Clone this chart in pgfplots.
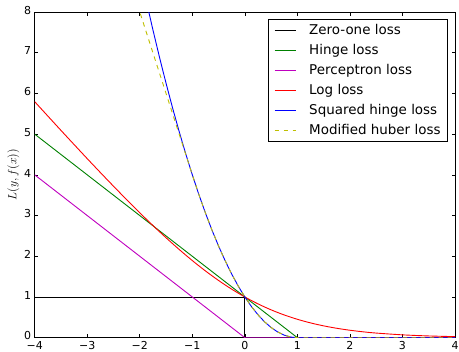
\documentclass[border=0pt]{standalone}
\usepackage{fontspec}
\setmainfont{DejaVu Sans}
\usepackage{pgfplots}
\pgfplotsset{compat=1.18}
\definecolor{mplg}{rgb}{0,0.5,0}
\definecolor{mplm}{rgb}{0.75,0,0.75}
\definecolor{mply}{rgb}{0.75,0.75,0}
\definecolor{mplr}{rgb}{1,0,0}
\definecolor{mplb}{rgb}{0,0,1}
\begin{document}
\begin{tikzpicture}
\begin{axis}[
  scale only axis,
  width=420.3bp, height=325.7bp,
  xmin=-4, xmax=4, ymin=0, ymax=8,
  xtick={-4,-3,-2,-1,0,1,2,3,4},
  xticklabels={−4,−3,−2,−1,0,1,2,3,4},
  ytick={0,1,2,3,4,5,6,7,8},
  yticklabels={0,1,2,3,4,5,6,7,8},
  tick align=inside,
  major tick length=3.5bp,
  tick style={black, line width=0.6bp},
  axis line style={black, line width=0.8bp},
  tick label style={font=\fontsize{11}{13}\selectfont},
  yticklabel style={yshift=1.8bp},
  xticklabel style={yshift=-0.5bp},
  ylabel={$L(y, f(x))$},
  ylabel style={at={(axis description cs:-0.051,0.5)}, anchor=center, font=\fontsize{11.5}{14}\selectfont},
  legend cell align=left,
  legend image code/.code={\draw[#1, line width=1.1bp] (0bp,0.5bp) -- (21bp,0.5bp);},
  legend style={
    at={(rel axis cs:0.5544,0.9776)}, anchor=north west,
    draw=black, line width=0.8bp, fill=white,
    font=\fontsize{13.5}{16}\selectfont,
    inner xsep=6bp, inner ysep=1bp,
    row sep=0pt,
    nodes={inner xsep=1bp, inner ysep=3.5bp, text height=10bp, text depth=3bp},
    /tikz/every odd column/.append style={column sep=12bp},
  },
  every axis plot/.append style={line width=0.9bp},
]
\addplot[color=black] coordinates {(-4,1) (0,1) (0,0) (4,0)};
\addlegendentry{Zero-one loss}
\addplot[color=mplg] coordinates {(-4,5) (1,0) (4,0)};
\addlegendentry{Hinge loss}
\addplot[color=mplm] coordinates {(-4,4) (0,0) (4,0)};
\addlegendentry{Perceptron loss}
\addplot[color=mplr, smooth] coordinates {
(-4,5.7970) (-3.75,5.444) (-3.5,5.092) (-3.25,4.744) (-3,4.398) (-2.75,4.057)
(-2.5,3.721) (-2.25,3.391) (-2,3.068) (-1.75,2.756) (-1.5,2.455) (-1.25,2.167)
(-1,1.8946) (-0.75,1.640) (-0.5,1.4053) (-0.25,1.1915) (0,1) (0.25,0.8309)
(0.5,0.6839) (0.75,0.5582) (1,0.4520) (1.25,0.3634) (1.5,0.2906) (1.75,0.2312)
(2,0.1831) (2.25,0.1446) (2.5,0.1138) (3,0.0701) (3.5,0.0429) (4,0.0262)};
\addlegendentry{Log loss}
\addplot[color=mplb] coordinates {
(-2,9) (-1.875,8.265625) (-1.75,7.5625) (-1.625,6.890625) (-1.5,6.25)
(-1.375,5.640625) (-1.25,5.0625) (-1.125,4.515625) (-1,4) (-0.875,3.515625)
(-0.75,3.0625) (-0.625,2.640625) (-0.5,2.25) (-0.375,1.890625) (-0.25,1.5625)
(-0.125,1.265625) (0,1) (0.125,0.765625) (0.25,0.5625) (0.375,0.390625)
(0.5,0.25) (0.625,0.140625) (0.75,0.0625) (0.875,0.015625) (1,0) (4,0)};
\addlegendentry{Squared hinge loss}
\addplot[color=mply, dash pattern=on 4.5bp off 4.5bp] coordinates {
(-2.2,8.8) (-1,4) (-0.875,3.515625)
(-0.75,3.0625) (-0.625,2.640625) (-0.5,2.25) (-0.375,1.890625) (-0.25,1.5625)
(-0.125,1.265625) (0,1) (0.125,0.765625) (0.25,0.5625) (0.375,0.390625)
(0.5,0.25) (0.625,0.140625) (0.75,0.0625) (0.875,0.015625) (1,0) (4,0)};
\addlegendentry{Modified huber loss}
\end{axis}
\pgfresetboundingbox
\useasboundingbox (-34.7bp,-14.3bp) rectangle (424.3bp,337.7bp);
\end{tikzpicture}
\end{document}
